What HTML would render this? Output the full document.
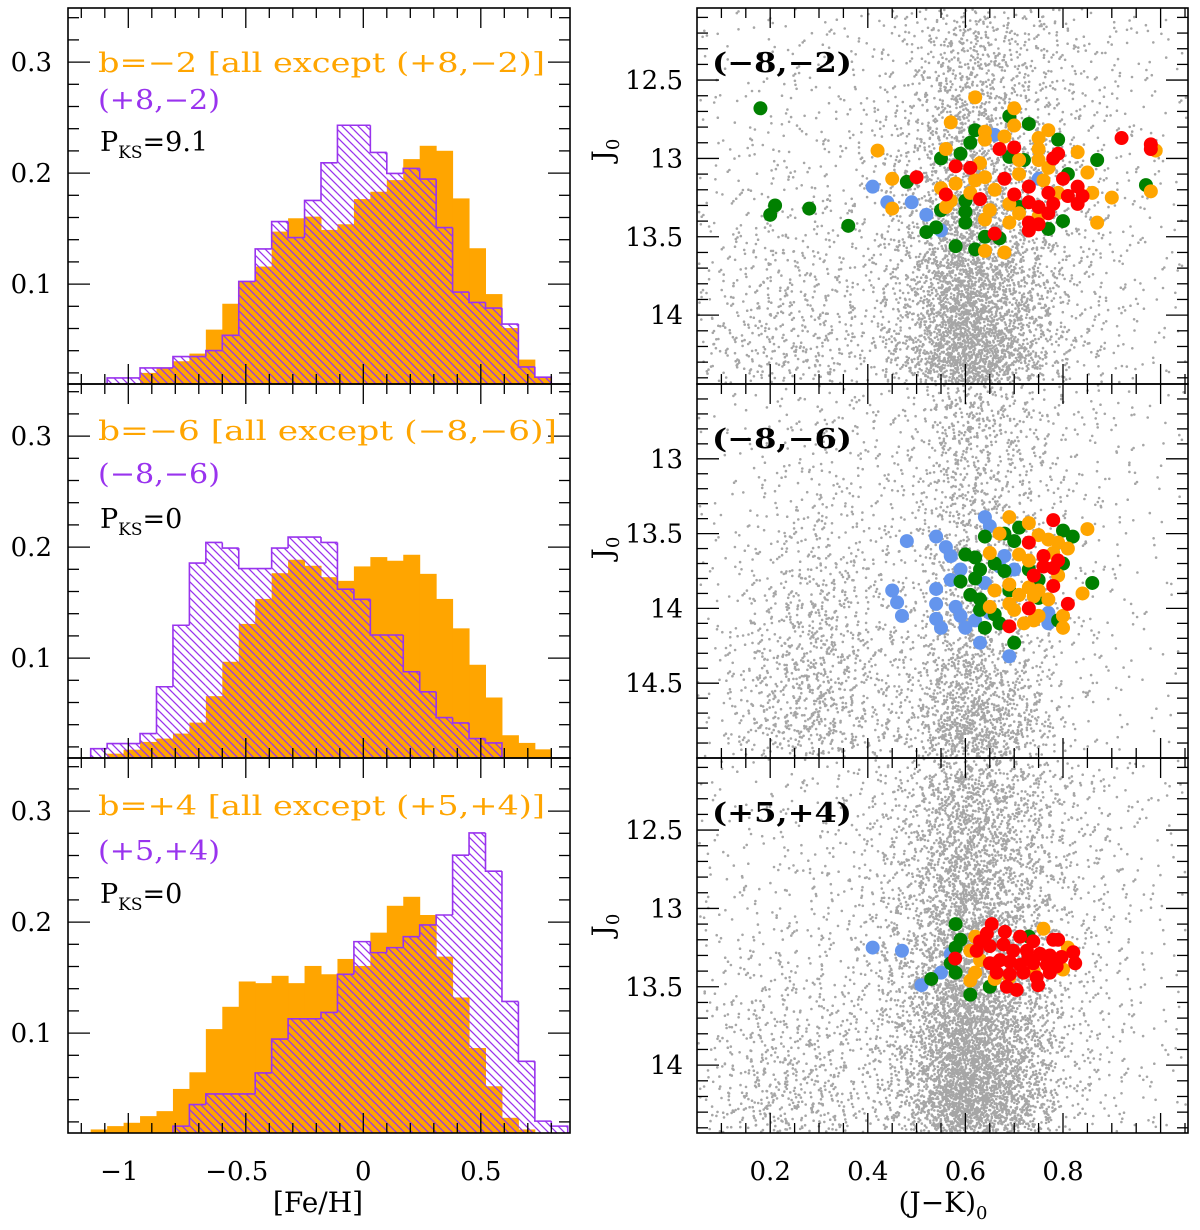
<!DOCTYPE html>
<html><head><meta charset="utf-8"><style>
html,body{margin:0;padding:0;background:#fff;}
svg{display:block;font-family:"DejaVu Serif","Liberation Serif",serif;}
</style></head><body>
<svg id="fig" width="1200" height="1230" viewBox="0 0 1200 1230" xmlns="http://www.w3.org/2000/svg">
<defs>
<pattern id="hatch" patternUnits="userSpaceOnUse" width="8" height="8">
<path d="M-2,-2 L10,10 M-2,6 L2,10 M6,-2 L10,2" stroke="#9933ee" stroke-width="1.3"/>
</pattern>
</defs>
<g id="gray"></g>
<g id="marks"></g>
<g id="axes"></g>
<g id="texts"></g>
</svg>
<script>
// ---------- DATA ----------
const binStart = -1.16, binWidth = 0.07;
const p1Purple = [0,0.0155,0.0155,0.0245,0.0245,0.0347,0.0347,0.0401,0.0539,0.1024,0.1317,0.1563,0.1419,0.1754,0.2093,0.2431,0.2431,0.2186,0.1997,0.2042,0.1946,0.1509,0.0928,0.0835,0.0784,0.0640,0.0254,0.0161];
const p1Orange = [0,0,0,0.020,0.0245,0.0305,0.0374,0.059,0.0823,0.1024,0.1158,0.1473,0.1593,0.1608,0.1488,0.1539,0.1766,0.1832,0.1937,0.2126,0.2246,0.2201,0.1772,0.1323,0.091,0.0604,0.032,0.0161];
const p2Purple = [0.0184,0.0230,0.0230,0.032,0.0742,0.1296,0.1856,0.2042,0.1991,0.1807,0.1807,0.1991,0.2090,0.2090,0.2042,0.1621,0.1530,0.1208,0.1208,0.0877,0.0696,0.0464,0.0416,0.0275,0.0236,0,0,0];
const p2Orange = [0,0.0139,0.0175,0.0245,0.0275,0.032,0.0419,0.0657,0.0967,0.1308,0.1533,0.1765,0.1886,0.1832,0.1729,0.1696,0.1826,0.1910,0.1877,0.1931,0.1759,0.1533,0.1268,0.0940,0.0645,0.0305,0.0236,0.0178];
const p3Purple = [0,0,0,0,0,0.0162,0.0356,0.0452,0.0452,0.0452,0.0641,0.0946,0.1129,0.1129,0.1186,0.1530,0.1824,0.1725,0.1770,0.1869,0.1974,0.2064,0.2603,0.2803,0.2459,0.1285,0.0746,0.0207,0.0162];
const p3Orange = [0.0132,0.0162,0.0192,0.0252,0.0297,0.0497,0.0647,0.1036,0.1237,0.1465,0.1450,0.1516,0.1450,0.1605,0.1530,0.1668,0.1605,0.1905,0.2147,0.2228,0.2064,0.1689,0.1321,0.0866,0.0521,0.0237,0.0132,0,0];
const histLabels = [
 ["b=\u22122 [all except (+8,\u22122)]","(+8,\u22122)","9.1"],
 ["b=\u22126 [all except (\u22128,\u22126)]","(\u22128,\u22126)","0"],
 ["b=+4 [all except (+5,+4)]","(+5,+4)","0"]];
const fehTicks = [-1,-0.5,0,0.5];
const fracTicks = [0.1,0.2,0.3];
const cmdLabels = ["(\u22128,\u22122)","(\u22128,\u22126)","(+5,+4)"];
const colorTicks = [0.2,0.4,0.6,0.8];
const magTicksA = [12.5,13,13.5,14];
const magTicksB = [13,13.5,14,14.5];

// field star density: rows of magnitude bins x 10 colour bins (centres 0.1..1.0)
const fieldTop = [[5,8,8,10,20,70,40,20,10,6],[5,8,8,10,25,90,50,22,10,6],[6,10,10,12,35,120,60,25,10,6],[8,12,12,14,45,160,80,28,12,6],[10,15,15,16,55,200,95,30,12,6],[15,25,25,18,65,250,115,32,12,6],[20,35,35,20,80,310,140,32,12,6],[25,45,45,22,95,360,160,32,12,6]];
const fieldMid = [[4,8,15,12,15,90,45,15,8,4],[4,8,15,12,15,70,35,14,8,4],[4,10,20,15,18,70,35,14,8,4],[5,15,30,20,18,70,35,12,6,3],[6,25,50,25,20,75,38,12,6,3],[8,35,70,30,25,90,45,12,6,3],[10,45,80,35,35,140,70,12,6,3],[10,50,80,35,45,230,110,12,6,3]];
const fieldBot = [[6,8,10,15,45,150,80,30,12,5],[6,8,10,15,50,165,90,30,12,5],[6,10,12,18,55,185,100,30,12,5],[8,12,14,20,65,220,115,30,12,5],[10,18,18,22,75,260,135,30,12,5],[15,30,30,25,85,320,160,30,12,5],[20,45,45,25,95,380,185,30,12,5],[25,60,60,25,105,430,200,30,12,5]];
const densityScale = 1.8;

// coloured stars [J-K, J]
const topGreen = [[0.18,12.68],[0.21,13.30],[0.20,13.36],[0.28,13.32],[0.36,13.43],[0.48,13.15],[0.55,13.0],[0.59,12.97],[0.61,12.90],[0.62,12.82],[0.69,12.73],[0.73,12.78],[0.79,12.88],[0.87,13.01],[0.97,13.17],[0.81,13.10],[0.80,13.40],[0.77,13.45],[0.60,13.41],[0.54,13.44],[0.64,13.50],[0.67,13.51],[0.60,13.34],[0.72,13.01],[0.69,12.99],[0.55,13.33],[0.60,13.27],[0.71,13.31],[0.58,13.56],[0.62,13.58],[0.52,13.47]];
const topBlue = [[0.41,13.18],[0.44,13.28],[0.49,13.28],[0.52,13.36],[0.55,13.46],[0.75,13.13],[0.66,12.85]];
const topOrange = [[0.62,12.61],[0.70,12.68],[0.57,12.77],[0.70,12.79],[0.77,12.82],[0.64,12.83],[0.64,12.88],[0.68,12.86],[0.75,12.87],[0.42,12.95],[0.56,12.94],[0.75,12.94],[0.83,12.96],[0.75,13.01],[0.45,13.13],[0.63,13.03],[0.71,13.01],[0.85,13.09],[0.77,13.06],[0.55,13.19],[0.58,13.16],[0.62,13.14],[0.64,13.12],[0.66,13.20],[0.61,13.22],[0.57,13.27],[0.71,13.10],[0.76,13.14],[0.79,13.22],[0.86,13.22],[0.90,13.25],[0.98,13.21],[0.99,12.95],[0.45,13.32],[0.65,13.33],[0.69,13.29],[0.71,13.35],[0.64,13.39],[0.69,13.41],[0.87,13.41],[0.64,13.59],[0.68,13.60],[0.56,13.31],[0.75,13.37]];
const topRed = [[0.92,12.87],[0.98,12.91],[0.98,12.94],[0.50,13.12],[0.58,13.05],[0.61,13.06],[0.67,12.94],[0.70,12.93],[0.78,13.0],[0.79,12.97],[0.68,13.13],[0.56,13.23],[0.63,13.26],[0.70,13.23],[0.73,13.18],[0.73,13.28],[0.77,13.22],[0.80,13.13],[0.83,13.18],[0.81,13.24],[0.84,13.24],[0.83,13.29],[0.75,13.31],[0.78,13.29],[0.77,13.35],[0.73,13.41],[0.75,13.42],[0.73,13.46],[0.66,13.48]];
const midBlue = [[0.54,13.52],[0.56,13.59],[0.57,13.65],[0.64,13.39],[0.65,13.45],[0.59,13.74],[0.57,13.81],[0.54,13.87],[0.54,13.97],[0.58,13.99],[0.54,14.07],[0.55,14.13],[0.60,14.13],[0.59,14.05],[0.62,14.08],[0.63,14.23],[0.68,13.65],[0.67,13.72],[0.70,13.74],[0.64,13.83],[0.65,14.03],[0.77,14.10],[0.77,14.03],[0.69,14.32],[0.45,13.88],[0.46,13.96],[0.47,14.05],[0.48,13.55]];
const midGreen = [[0.64,13.52],[0.60,13.64],[0.62,13.66],[0.63,13.74],[0.62,13.80],[0.59,13.82],[0.66,13.70],[0.68,13.75],[0.68,13.50],[0.70,13.55],[0.71,13.46],[0.80,13.48],[0.82,13.52],[0.86,13.83],[0.61,13.91],[0.63,13.94],[0.63,14.01],[0.66,14.04],[0.67,14.10],[0.64,14.13],[0.70,14.23],[0.75,13.93],[0.79,14.08],[0.73,13.74],[0.75,13.81],[0.69,13.88],[0.80,13.70]];
const midOrange = [[0.69,13.39],[0.73,13.43],[0.67,13.50],[0.75,13.51],[0.77,13.54],[0.79,13.56],[0.81,13.60],[0.85,13.47],[0.71,13.64],[0.73,13.68],[0.65,13.63],[0.78,13.63],[0.79,13.78],[0.69,13.84],[0.66,13.88],[0.73,13.86],[0.75,13.88],[0.71,13.91],[0.74,13.92],[0.77,13.94],[0.69,13.97],[0.70,14.01],[0.65,13.99],[0.84,13.90],[0.72,14.10],[0.75,14.05],[0.74,14.08],[0.80,14.05],[0.80,14.13]];
const midRed = [[0.78,13.41],[0.73,13.56],[0.76,13.65],[0.76,13.72],[0.78,13.73],[0.79,13.68],[0.74,13.78],[0.78,13.85],[0.81,13.97],[0.73,14.0],[0.69,14.12]];
const botBlue = [[0.41,13.25],[0.47,13.27],[0.51,13.49],[0.55,13.41],[0.57,13.29]];
const botGreen = [[0.58,13.10],[0.59,13.20],[0.58,13.25],[0.57,13.35],[0.58,13.41],[0.53,13.45],[0.61,13.55],[0.65,13.50],[0.73,13.18]];
const botOrange = [[0.62,13.18],[0.61,13.27],[0.62,13.41],[0.61,13.46],[0.66,13.45],[0.76,13.13],[0.81,13.25],[0.80,13.39],[0.63,13.33],[0.69,13.44],[0.74,13.40]];
const botRed = [[0.654,13.10],[0.681,13.15],[0.644,13.16],[0.712,13.18],[0.739,13.21],[0.780,13.20],[0.790,13.20],[0.623,13.27],[0.650,13.24],[0.678,13.23],[0.698,13.27],[0.726,13.27],[0.753,13.29],[0.773,13.30],[0.797,13.31],[0.821,13.28],[0.825,13.35],[0.650,13.35],[0.671,13.33],[0.691,13.34],[0.712,13.36],[0.739,13.35],[0.767,13.36],[0.787,13.37],[0.664,13.41],[0.691,13.42],[0.719,13.41],[0.746,13.44],[0.773,13.41],[0.685,13.50],[0.705,13.52],[0.749,13.49],[0.579,13.32],[0.630,13.21],[0.729,13.32]];

// ---------- DRAW ----------
const NS = "http://www.w3.org/2000/svg";
const G = {gray:document.getElementById('gray'),marks:document.getElementById('marks'),axes:document.getElementById('axes'),texts:document.getElementById('texts')};
function mk(tag, attrs, parent){const e=document.createElementNS(NS,tag);for(const k in attrs)e.setAttribute(k,attrs[k]);parent.appendChild(e);return e;}
const LX0=68,LX1=570,RX0=697,RX1=1188;
const rows=[[8,384],[384,758],[758,1133]];
const fx = v => 363.3 + v*235;
const fy = (v,bot) => bot - (v-0.01)*1110;
const cx = c => 697 + (c-0.05)*488;
const magA = (m,top) => top + (m-12.04)*156.7;
const magB = (m,top) => top + (m-12.5)*149.6;

const hists=[[p1Orange,p1Purple],[p2Orange,p2Purple],[p3Orange,p3Purple]];
hists.forEach((h,pi)=>{
  const bot=rows[pi][1];
  const [or,pu]=h;
  or.forEach((v,i)=>{ if(v<=0) return;
    const x0=fx(binStart+i*binWidth), x1=fx(binStart+(i+1)*binWidth);
    const r=mk('rect',{x:x0,y:fy(v,bot),width:x1-x0+0.5,height:bot-fy(v,bot),fill:'#ffa500'},G.marks);
    
    
  });
  let d='';
  pu.forEach((v,i)=>{ if(v<=0) return;
    const x0=fx(binStart+i*binWidth), x1=fx(binStart+(i+1)*binWidth), y=fy(v,bot);
    const rh=mk('rect',{x:x0,y:y,width:x1-x0,height:bot-y,fill:'url(#hatch)'},G.marks);
    
    
    const prev = i>0?pu[i-1]:0, next = i<pu.length-1?pu[i+1]:0;
    d += `M${x0},${prev>0?fy(prev,bot):bot} L${x0},${y} L${x1},${y} `;
    if(next<=0) d += `L${x1},${bot} `;
  });
  const p=mk('path',{d:d,fill:'none',stroke:'#9933ee','stroke-width':1.6},G.marks);
  
  
});

function halton(i,b){let f=1,r=0;while(i>0){f/=b;r+=f*(i%b);i=Math.floor(i/b);}return r;}
let hidx=1;
function field(grid,pi,m0,m1,ymap){
  const top=rows[pi][0], dm=(m1-m0)/grid.length;
  let s='';
  grid.forEach((row,ri)=>row.forEach((n,ci)=>{
    const N=Math.round(n*densityScale);
    for(let k=0;k<N;k++){ hidx++;
      const c=0.1+ci*0.1+(halton(hidx,2)+halton(hidx,5)-1)*0.1;
      const m=m0+(ri+0.5)*dm+(halton(hidx,3)+halton(hidx,7)-1)*dm;
      const x=cx(c), y=ymap(m,top);
      if(x<RX0+1||x>RX1-1||y<top+1||y>rows[pi][1]-1) continue;
      s+=`M${x.toFixed(1)},${y.toFixed(1)}h0.01`;
    }}));
  const p=mk('path',{d:s,stroke:'#a6a6a6','stroke-width':2.6,'stroke-linecap':'round',fill:'none'},G.gray);
  
  
}
field(fieldTop,0,12.05,14.45,magA);
field(fieldMid,1,12.5,15.0,magB);
field(fieldBot,2,12.05,14.45,magA);

const sets=[[[topBlue,'#6495ed'],[topGreen,'#008000'],[topOrange,'#ffa500'],[topRed,'#ff0000']],
 [[midBlue,'#6495ed'],[midGreen,'#008000'],[midOrange,'#ffa500'],[midRed,'#ff0000']],
 [[botBlue,'#6495ed'],[botGreen,'#008000'],[botOrange,'#ffa500'],[botRed,'#ff0000']]];
sets.forEach((ps,pi)=>{const ym=pi===1?magB:magA;
  ps.forEach(([arr,col])=>arr.forEach(([c,m])=>{
    const e=mk('circle',{cx:cx(c),cy:ym(m,rows[pi][0]),r:7,fill:col},G.marks);
    
    
  }));});

function line(x1,y1,x2,y2,w){mk('line',{x1,y1,x2,y2,stroke:'#000','stroke-width':w||1.3},G.axes);}
rows.forEach(([t,b],pi)=>{
  [[LX0,LX1],[RX0,RX1]].forEach(([l,r],side)=>{
    const f=mk('rect',{x:l,y:t,width:r-l,height:b-t,fill:'none',stroke:'#000','stroke-width':1.6},G.axes);
    
    
  });
  for(let k=-13;k<=8;k++){const v=k/10,x=fx(v); if(x<LX0||x>LX1) continue; const L=(k%5===0)?20:10;
    line(x,b,x,b-L); line(x,t,x,t+L);}
  for(let k=1;k<=17;k++){const v=k*0.02,y=fy(v,b); if(y<t) continue; const L=(k%5===0)?22:11;
    line(LX0,y,LX0+L,y); line(LX1,y,LX1-L,y);}
  for(let k=1;k<=21;k++){const c=k*0.05,x=cx(c); if(x<=RX0||x>=RX1) continue; const L=(k%4===0)?20:10;
    line(x,b,x,b-L); line(x,t,x,t+L);}
  const ym=pi===1?magB:magA;
  for(let k=120;k<=150;k++){const m=k/10,y=ym(m,t); if(y<=t||y>=b) continue; const L=(k%5===0)?22:11;
    line(RX0,y,RX0+L,y); line(RX1,y,RX1-L,y);}
});

function txt(x,y,s,attrs,name){const e=mk('text',Object.assign({x,y},attrs),G.texts);e.textContent=s;
  
  return e;}
rows.forEach(([t,b],pi)=>{
  fracTicks.forEach(v=>txt(52,fy(v,b)+9,v.toString(),{'font-size':26,'text-anchor':'end'},'y-tick-label'));
  const ym=pi===1?magB:magA, mt=pi===1?magTicksB:magTicksA;
  mt.forEach(m=>txt(683,ym(m,t)+9,m.toString(),{'font-size':26,'text-anchor':'end'},'j0-tick-label'));
});
fehTicks.forEach(v=>txt(fx(v)-(v<0?9:0),1180,v<0?'\u2212'+(-v):v.toString(),{'font-size':26,'text-anchor':'middle'},'feh-tick-label'));
colorTicks.forEach(c=>txt(cx(c),1180,c.toString(),{'font-size':26,'text-anchor':'middle'},'jk-tick-label'));
txt(318,1212,'[Fe/H]',{'font-size':28,'text-anchor':'middle'},'x-axis-title-feh');
const jk=txt(943,1212,'(J\u2212K)',{'font-size':28,'text-anchor':'middle'},'x-axis-title-jk');
const sub=mk('tspan',{'font-size':18,dy:7},jk); sub.textContent='0';

const lab=[[72,109,151],[440,483,528],[815,860,903]];
const oW=[447,459,447];
histLabels.forEach((L,pi)=>{
  txt(98,lab[pi][0],L[0],{'font-size':27,fill:'#ffa500',textLength:oW[pi],lengthAdjust:'spacingAndGlyphs'},'orange-legend-label');
  txt(98,lab[pi][1],L[1],{'font-size':27,fill:'#9933ee',textLength:122,lengthAdjust:'spacingAndGlyphs'},'purple-legend-label');
  const p=txt(100,lab[pi][2],'P',{'font-size':27,fill:'#000'},'pks-label');
  const s1=mk('tspan',{'font-size':17,dy:7},p); s1.textContent='KS';
  const s2=mk('tspan',{'font-size':27,dy:-7},p); s2.textContent='='+L[2];
  const yc=[150,548,925][pi];
  const j=txt(0,0,'J',{'font-size':28,transform:`translate(612,${yc}) rotate(-90)`,'text-anchor':'middle'},'y-axis-title-j0');
  const js=mk('tspan',{'font-size':18,dy:7},j); js.textContent='0';
  txt(712,[72,448,822][pi],cmdLabels[pi],{'font-size':27,'font-weight':'bold',textLength:140,lengthAdjust:'spacingAndGlyphs'},'field-label');
});
</script>
</body></html>
